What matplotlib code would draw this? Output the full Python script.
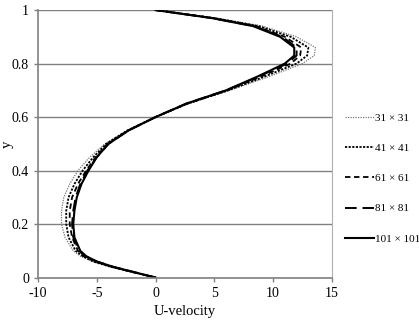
import matplotlib.pyplot as plt

plt.rcParams['font.family'] = ['Liberation Serif', 'DejaVu Serif']
plt.rcParams['axes.unicode_minus'] = False

# y positions along the centre line
y = [0, 0.02, 0.04, 0.06, 0.08, 0.10, 0.15, 0.20, 0.25, 0.30, 0.35, 0.40, 0.45,
     0.50, 0.55, 0.60, 0.65, 0.70, 0.75, 0.80, 0.83, 0.86, 0.90, 0.94, 0.97, 1.0]

u_31 = [0, -2.0, -3.9, -5.4, -6.4, -7.0, -7.7, -8.0, -8.0, -7.8, -7.3, -6.6, -5.6,
        -4.3, -2.4, 0.0, 2.8, 6.3, 9.6, 12.5, 13.5, 13.6, 12.0, 9.1, 5.2, 0]
u_41 = [0, -1.9, -3.8, -5.3, -6.2, -6.8, -7.4, -7.6, -7.6, -7.4, -6.9, -6.2, -5.3,
        -4.2, -2.4, 0.0, 2.7, 6.2, 9.2, 12.0, 12.9, 13.0, 11.5, 8.8, 5.0, 0]
u_61 = [0, -1.9, -3.7, -5.1, -6.1, -6.6, -7.1, -7.3, -7.3, -7.1, -6.6, -5.9, -5.1,
        -4.1, -2.3, 0.0, 2.7, 6.1, 8.9, 11.5, 12.3, 12.4, 11.0, 8.5, 4.9, 0]
u_81 = [0, -1.8, -3.6, -5.0, -6.0, -6.5, -7.0, -7.1, -7.0, -6.8, -6.4, -5.8, -5.0,
        -4.0, -2.3, 0.0, 2.6, 6.0, 8.7, 11.2, 12.0, 12.0, 10.8, 8.4, 4.8, 0]
u_101 = [0, -1.8, -3.6, -5.0, -5.9, -6.4, -6.9, -7.0, -6.9, -6.7, -6.3, -5.7, -5.0,
         -4.0, -2.3, 0.0, 2.6, 6.0, 8.6, 11.0, 11.8, 11.8, 10.6, 8.3, 4.8, 0]

labels = ['31 × 31', '41 × 41', '61 × 61', '81 × 81', '101 × 101']

fig = plt.figure(figsize=(4.19, 3.25), dpi=100)
ax = fig.add_axes([0.0907, 0.146, 0.7013, 0.823])

ax.plot(u_31, y, color='#777777', lw=0.9, linestyle=(0, (1, 1)), label=labels[0])
ax.plot(u_41, y, color='black', lw=1.3, linestyle=(0, (1.2, 0.8)), label=labels[1])
ax.plot(u_61, y, color='black', lw=1.3, linestyle=(0, (3, 2)), label=labels[2])
ax.plot(u_81, y, color='black', lw=1.4, linestyle=(0, (6, 3)), label=labels[3])
ax.plot(u_101, y, color='black', lw=1.5, linestyle='-', label=labels[4])

ax.set_xlim(-10, 15)
ax.set_ylim(0, 1)
ax.set_xticks([-10, -5, 0, 5, 10, 15])
ax.set_yticks([0, 0.2, 0.4, 0.6, 0.8, 1.0])
ax.set_yticklabels(['0', '0.2', '0.4', '0.6', '0.8', '1'])
ax.yaxis.grid(True, color='#808080', lw=1.0)
ax.set_axisbelow(True)
ax.tick_params(labelsize=10, length=3, color='#808080', width=1)

for s in ['left', 'bottom']:
    ax.spines[s].set_color('#808080')
    ax.spines[s].set_linewidth(1.2)
ax.spines['right'].set_color('#b0b0b0')
ax.spines['top'].set_visible(False)

ax.set_xlabel('U-velocity', fontsize=10.5, labelpad=4)
ax.set_ylabel('y', fontsize=10.5)
ax.yaxis.set_label_coords(-0.082, 0.5)

fig.legend(loc='upper left', bbox_to_anchor=(0.812, 0.665), frameon=False,
           fontsize=8, handlelength=2.6, handletextpad=0.1, labelspacing=1.83,
           borderaxespad=0)

fig.savefig('out.png', dpi=100)
